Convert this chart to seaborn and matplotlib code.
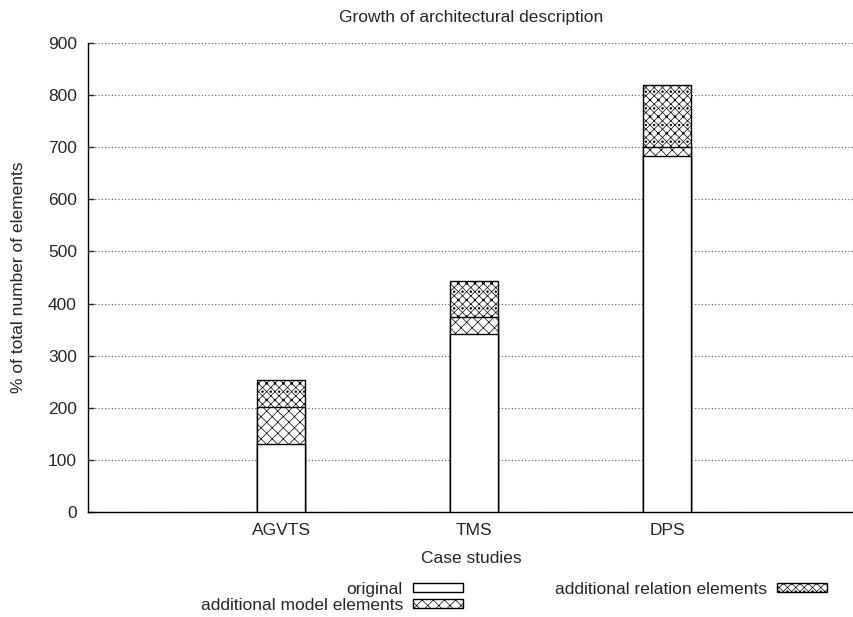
import matplotlib
matplotlib.use("Agg")
import matplotlib.pyplot as plt
import matplotlib.patches as mpatches
import seaborn as sns
import numpy as np
import pandas as pd

# values
studies = ["AGVTS", "TMS", "DPS"]
original = [130, 341, 683]
model_elements = [71, 33, 18]
relation_elements = [52, 69, 118]

sns.set_style("white")
plt.rcParams['font.family'] = ['Liberation Sans', 'DejaVu Sans']
plt.rcParams['hatch.linewidth'] = 0.5

orig = np.array(original)
with_model = orig + np.array(model_elements)
total = with_model + np.array(relation_elements)

MODEL_HATCH = "xxx"
REL_HATCH = "xxxx.."

fig = plt.figure(figsize=(8.54, 6.17), dpi=100)
ax = fig.add_axes([88 / 854, (617 - 512) / 617, (854 - 88) / 854, (512 - 43) / 617])

# layers drawn tallest first, each overlapping the previous one
layers = [
    (total, REL_HATCH),
    (with_model, MODEL_HATCH),
    (orig, ""),
]
for vals, hatch in layers:
    df = pd.DataFrame({"study": studies, "value": vals})
    sns.barplot(data=df, x="study", y="value", color="white", width=0.25,
                edgecolor="black", linewidth=1.0, hatch=hatch, ax=ax, zorder=3,
                saturation=1)

ax.set_xlim(-1, -1 + 766 / 193)
ax.set_ylim(0, 900)
ax.set_yticks(range(0, 901, 100))
ax.yaxis.grid(True, linestyle=(0, (1, 2)), color="#555555", linewidth=0.8, zorder=0)
ax.set_axisbelow(True)
for s in ["top", "right"]:
    ax.spines[s].set_visible(False)
for s in ["left", "bottom"]:
    ax.spines[s].set_color("black")
    ax.spines[s].set_linewidth(1.0)
ax.tick_params(axis="y", direction="in", length=4, width=1, labelsize=12.5, pad=8, left=True)
ax.tick_params(axis="x", length=0, labelsize=12.5, pad=8)

ax.set_title("Growth of architectural description", fontsize=12.5, pad=15)
ax.set_xlabel("Case studies", fontsize=12.5, labelpad=9)
ax.set_ylabel("% of total number of elements", fontsize=12.5, labelpad=16)

handles = [
    mpatches.Patch(facecolor="white", edgecolor="black", label="original"),
    mpatches.Patch(facecolor="white", edgecolor="black", hatch=MODEL_HATCH,
                   label="additional model elements"),
    mpatches.Patch(facecolor="white", edgecolor="black", hatch=REL_HATCH,
                   label="additional relation elements"),
]
fig.legend(handles=handles, loc="upper left", bbox_to_anchor=(192 / 854, 1 - 573 / 617),
           ncol=2, frameon=False, markerfirst=False, fontsize=12.5,
           handlelength=2.9, handleheight=0.46, handletextpad=0.57,
           columnspacing=5.3, labelspacing=0.05, borderpad=0)

fig.savefig("out.png", dpi=100)
